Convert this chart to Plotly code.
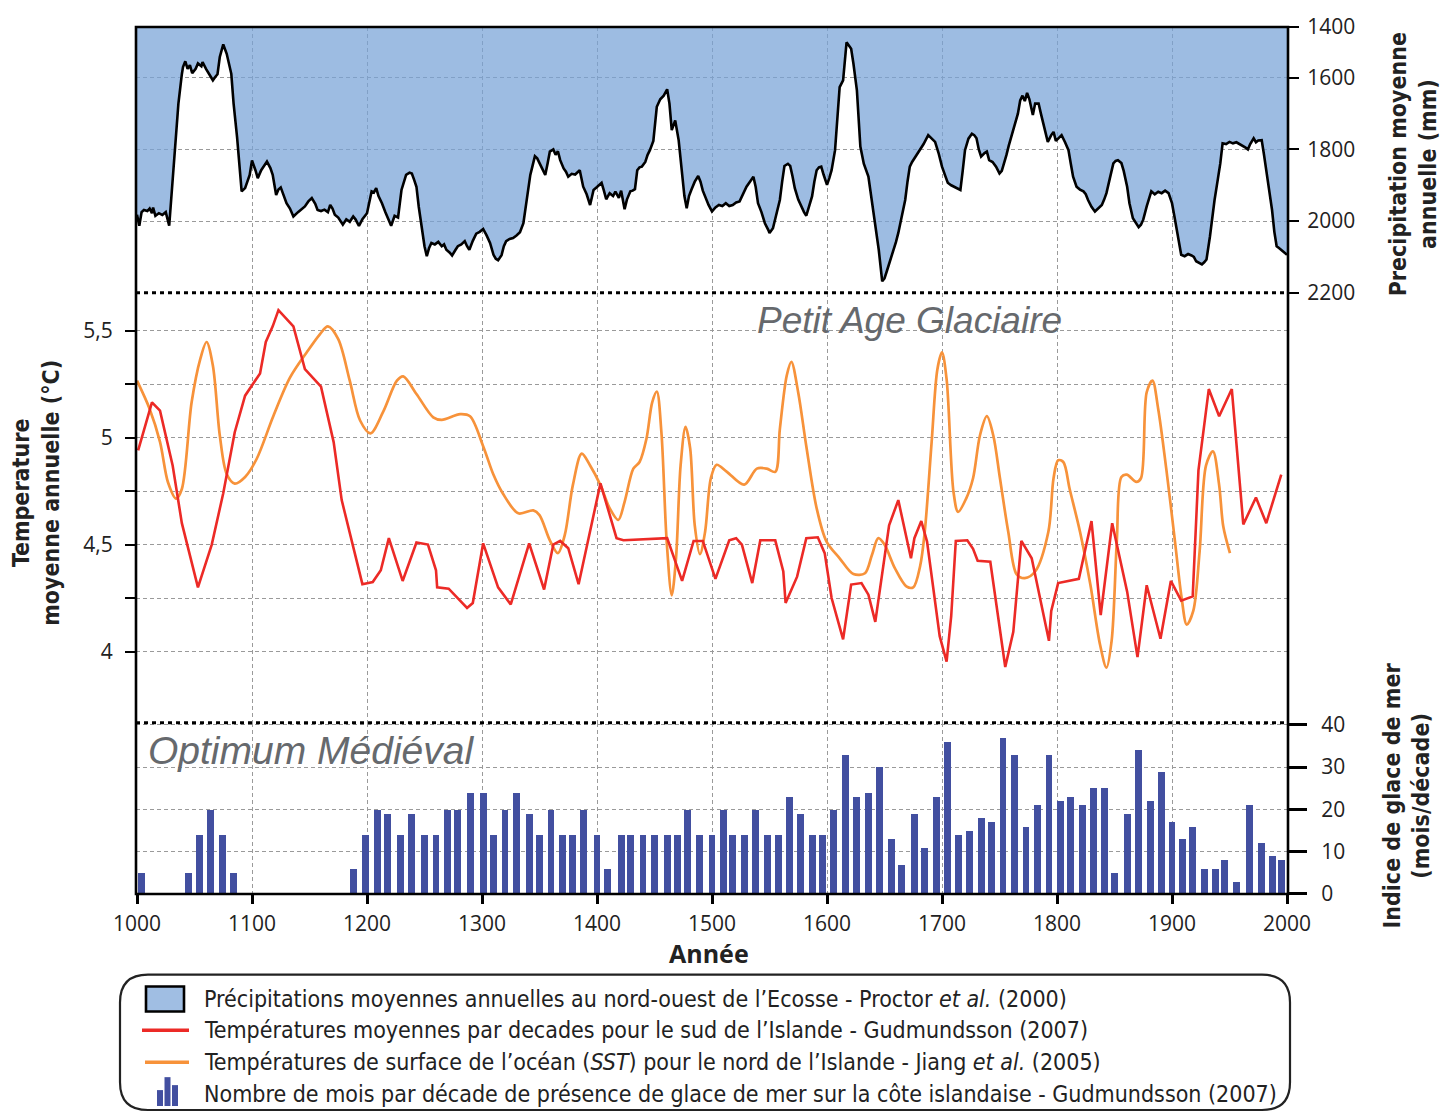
import plotly.graph_objects as go

# ---------------- DATA ----------------
# Precipitation (mm), NW Scotland - Proctor et al. (2000)
precip_years = [1000,1002,1004,1006,1009,1011,1013,1014,1016,1019,1022,1025,1028,1030,1033,1036,1039,1040,1042,1044,
    1046,1048,1051,1053,1056,1057,1060,1063,1066,1068,1070,1072,1075,1078,1082,1084,1087,1091,1094,1098,
    1100,1103,1105,1108,1110,1113,1116,1118,1121,1123,1125,1128,1130,1133,1136,1140,1143,1146,1149,1152,
    1155,1157,1160,1163,1166,1168,1170,1172,1175,1179,1182,1185,1188,1190,1193,1196,1200,1202,1204,1206,
    1208,1210,1213,1216,1219,1221,1224,1227,1230,1232,1234,1237,1239,1241,1243,1245,1248,1250,1252,1254,
    1256,1259,1262,1265,1267,1269,1272,1274,1277,1279,1282,1285,1287,1289,1292,1295,1298,1301,1304,1307,
    1310,1312,1314,1317,1319,1321,1324,1327,1330,1333,1336,1339,1342,1344,1346,1348,1350,1353,1355,1357,
    1359,1362,1364,1366,1368,1371,1373,1375,1378,1381,1385,1388,1391,1394,1397,1400,1404,1406,1408,1411,
    1414,1416,1419,1421,1424,1426,1429,1431,1433,1435,1437,1439,1442,1444,1446,1449,1451,1452,1455,1458,
    1461,1463,1465,1468,1471,1474,1476,1478,1480,1482,1485,1488,1490,1492,1494,1497,1500,1503,1506,1509,
    1512,1515,1518,1521,1524,1527,1530,1533,1536,1538,1540,1543,1546,1549,1550,1553,1555,1557,1559,1561,
    1563,1566,1568,1570,1572,1575,1578,1580,1582,1585,1587,1589,1591,1593,1595,1597,1600,1602,1604,1607,
    1609,1611,1614,1617,1619,1621,1623,1626,1629,1632,1636,1638,1640,1643,1645,1648,1650,1652,1655,1658,
    1660,1662,1665,1668,1670,1672,1674,1677,1680,1684,1688,1691,1694,1697,1700,1703,1705,1708,1711,1714,
    1716,1718,1720,1723,1726,1728,1730,1732,1734,1737,1739,1741,1744,1747,1750,1752,1754,1756,1758,1761,
    1763,1766,1768,1770,1772,1774,1776,1779,1781,1784,1786,1788,1790,1792,1795,1797,1799,1802,1804,1807,
    1810,1812,1814,1817,1820,1823,1825,1827,1830,1833,1836,1839,1841,1843,1846,1849,1851,1853,1856,1858,
    1861,1863,1866,1869,1871,1873,1875,1878,1880,1882,1885,1888,1891,1894,1897,1900,1902,1904,1906,1908,
    1911,1914,1917,1919,1921,1924,1926,1928,1930,1933,1935,1937,1940,1942,1944,1947,1950,1953,1956,1959,
    1962,1964,1966,1968,1971,1973,1975,1978,1980,1982,1985,1987,1989,1991,1993,1995,1998,2000]
precip_mm = [1982,2013,1975,1969,1972,1965,1978,1962,1985,1978,1983,1975,2013,1931,1802,1672,1590,1570,1554,1575,
    1565,1587,1575,1560,1568,1556,1575,1591,1607,1598,1590,1542,1507,1533,1589,1672,1765,1917,1908,1871,
    1831,1858,1880,1858,1848,1834,1852,1871,1927,1912,1906,1935,1950,1965,1987,1975,1968,1959,1945,1936,
    1952,1969,1972,1968,1975,1955,1965,1982,1990,2010,1995,2002,1987,1995,2013,1995,1978,1945,1917,1920,
    1908,1930,1950,1975,2000,2013,1985,1990,1913,1890,1871,1865,1867,1885,1904,1960,2029,2070,2098,2075,
    2061,2065,2058,2070,2065,2080,2088,2096,2080,2070,2065,2056,2070,2080,2055,2035,2030,2022,2040,2061,
    2094,2105,2109,2095,2070,2056,2050,2047,2040,2031,2006,1931,1871,1845,1819,1825,1839,1860,1871,1840,
    1806,1800,1815,1805,1830,1853,1862,1876,1868,1870,1858,1904,1925,1955,1913,1905,1893,1915,1939,1922,
    1930,1918,1935,1915,1967,1940,1917,1915,1911,1858,1850,1848,1835,1815,1802,1776,1720,1681,1660,1650,
    1632,1672,1746,1719,1774,1876,1930,1964,1930,1913,1890,1874,1890,1915,1931,1955,1973,1962,1955,1958,
    1950,1958,1955,1948,1945,1925,1904,1890,1876,1905,1950,1975,2006,2025,2033,2020,1996,1970,1941,1890,
    1846,1840,1846,1875,1908,1940,1964,1975,1985,1955,1931,1890,1858,1850,1848,1870,1899,1880,1858,1802,
    1720,1626,1607,1501,1510,1519,1561,1635,1792,1840,1876,1920,1969,2040,2080,2168,2160,2140,2110,2080,
    2058,2033,1985,1941,1890,1848,1835,1820,1806,1785,1760,1770,1779,1810,1848,1875,1893,1900,1905,1908,
    1913,1860,1802,1770,1756,1760,1769,1800,1820,1810,1806,1830,1835,1848,1867,1860,1840,1816,1790,1756,
    1728,1700,1663,1650,1665,1642,1660,1704,1672,1672,1700,1728,1760,1779,1760,1751,1776,1765,1760,1780,
    1802,1840,1876,1904,1912,1917,1925,1941,1960,1973,1965,1955,1940,1922,1880,1839,1832,1830,1838,1860,
    1904,1950,1992,2005,2017,2010,1996,1959,1935,1917,1925,1918,1922,1915,1922,1950,1985,2024,2060,2094,
    2098,2092,2096,2100,2112,2118,2121,2115,2107,2043,1990,1941,1880,1839,1783,1785,1779,1783,1780,1785,
    1791,1795,1800,1785,1769,1780,1775,1774,1815,1858,1930,1969,2030,2070,2075,2080,2088,2094]

# Decadal mean temperature, S Iceland - Gudmundsson (2007)
temp_s_years = [1001,1013,1020,1031,1039,1053,1065,1075,1085,1094,1107,1112,1118,1123,1136,1146,1160,1171,1178,1196,
    1205,1212,1219,1231,1243,1253,1260,1261,1271,1287,1292,1301,1314,1325,1341,1354,1362,1368,1375,1384,
    1403,1417,1423,1461,1474,1484,1492,1503,1515,1521,1526,1535,1542,1555,1562,1564,1574,1582,1592,1598,
    1604,1614,1621,1630,1636,1642,1654,1662,1673,1676,1682,1687,1698,1704,1708,1712,1722,1727,1731,1742,
    1755,1762,1769,1778,1793,1795,1801,1819,1830,1838,1848,1861,1870,1878,1890,1899,1908,1918,1923,1932,
    1941,1952,1962,1973,1982,1995]
temp_s = [4.94,5.165,5.126,4.87,4.60,4.30,4.50,4.74,5.025,5.196,5.30,5.447,5.52,5.596,5.52,5.32,5.238,4.979,4.708,4.315,
    4.325,4.38,4.53,4.33,4.51,4.50,4.38,4.30,4.294,4.204,4.227,4.506,4.30,4.22,4.506,4.29,4.50,4.517,4.483,4.315,
    4.786,4.53,4.52,4.53,4.33,4.517,4.517,4.34,4.52,4.53,4.50,4.32,4.52,4.52,4.374,4.227,4.35,4.53,4.534,4.46,
    4.25,4.057,4.313,4.32,4.266,4.139,4.59,4.708,4.436,4.53,4.61,4.514,4.072,3.953,4.165,4.517,4.52,4.48,4.424,4.42,
    3.928,4.092,4.517,4.436,4.05,4.19,4.32,4.34,4.61,4.17,4.60,4.28,3.974,4.31,4.06,4.33,4.238,4.258,4.847,5.227,
    5.10,5.227,4.594,4.72,4.60,4.827]

# Sea surface temperature, N Iceland - Jiang et al. (2005)
sst_years = [1000,1011,1020,1027,1034,1039,1047.5,1055,1060.5,1066,1072,1078,1085,1094,1104,1118.5,1133,1147.5,1159,1166,
    1175,1185,1194,1203,1214,1226,1231.5,1243,1257.6,1265,1281,1289.6,1301,1310,1318,1331.6,1344.6,1350,1359,1366,
    1372,1379,1386.7,1394,1403,1411,1418.5,1424,1431.6,1437,1443,1448,1452,1456,1460.6,1465,1468.7,1472.7,1477,1481,
    1485,1489.5,1494,1499,1504,1513,1528,1539,1547.6,1555,1559,1565,1569,1575,1582,1591,1599.6,1611,1623,1633,
    1639,1644.6,1650,1659,1669,1675,1681,1685,1691,1696,1700,1704,1710,1714,1721,1727,1733,1739,1744.6,1750.4,
    1757.6,1765,1772,1781,1792.5,1797,1801,1805.5,1811,1820,1829,1837.4,1843,1847.5,1852,1856,1860.6,1869,
    1873,1878,1883,1888,1895,1902.6,1908.4,1912.8,1918.5,1924,1929.6,1935.6,1941,1944.6,1950.4]
sst = [5.266,5.134,4.98,4.79,4.715,4.76,5.165,5.367,5.447,5.336,5.01,4.83,4.785,4.816,4.90,5.10,5.28,5.398,5.483,5.52,
    5.46,5.266,5.08,5.02,5.12,5.266,5.286,5.204,5.095,5.083,5.11,5.10,4.96,4.826,4.74,4.646,4.66,4.638,4.52,4.46,
    4.545,4.778,4.925,4.87,4.778,4.67,4.615,4.70,4.855,4.886,4.995,5.165,5.215,5.025,4.514,4.263,4.436,4.87,5.05,4.95,
    4.59,4.455,4.56,4.81,4.873,4.84,4.78,4.855,4.855,4.84,5.04,5.29,5.354,5.21,4.96,4.67,4.514,4.436,4.362,4.366,
    4.45,4.53,4.50,4.39,4.305,4.30,4.40,4.56,4.98,5.32,5.398,5.273,4.746,4.653,4.715,4.81,5.01,5.10,5.01,4.81,
    4.56,4.36,4.343,4.374,4.56,4.81,4.894,4.886,4.76,4.56,4.313,4.033,3.925,4.05,4.514,4.816,4.827,4.793,
    4.81,5.212,5.266,5.134,4.855,4.514,4.25,4.126,4.19,4.467,4.87,4.936,4.778,4.584,4.46]

# Sea-ice index (months per decade) - Gudmundsson (2007)
ice_years = [1004,1045,1054,1064,1074,1084,1188,1199,1209,1218,1229,1239,1250,1260,1270,1279,1290,1301,1310,1320,
    1330,1341,1350,1360,1370,1379,1388,1400,1409,1421,1429,1440,1450,1461,1470,1479,1489,1500,1510,1518,
    1528,1538,1548,1558,1567,1577,1587,1596,1606,1616,1626,1636,1646,1656,1665,1676,1685,1695,1705,1714,
    1724,1734,1743,1753,1763,1773,1783,1793,1803,1812,1822,1832,1841,1850,1861,1871,1881,1891,1900,1909,
    1918,1928,1938,1946,1956,1967,1978,1987,1995]
ice_months = [5,5,14,20,14,5,6,14,20,19,14,19,14,14,20,20,24,24,14,20,
    24,19,14,20,14,14,20,14,6,14,14,14,14,14,14,20,14,14,20,14,
    14,20,14,14,23,19,14,14,20,33,23,24,30,13,7,19,11,23,36,14,
    15,18,17,37,33,16,21,33,22,23,21,25,25,5,19,34,22,29,17,13,
    16,6,6,8,3,21,12,9,8]

x_ticks = [1000,1100,1200,1300,1400,1500,1600,1700,1800,1900,2000]
temp_ticks = [4,4.25,4.5,4.75,5,5.25,5.5]
temp_ticktext = ["4","","4,5","","5","","5,5"]
precip_ticks = [1458.3,1600,1800,2000,2200]
precip_ticktext = ["1400","1600","1800","2000","2200"]
ice_ticks = [0,10,20,30,40]

legend_texts = [
    "Précipitations moyennes annuelles au nord-ouest de l’Ecosse - Proctor <i>et al.</i> (2000)",
    "Températures moyennes par decades pour le sud de l’Islande - Gudmundsson (2007)",
    "Températures de surface de l’océan (<i>SST</i>) pour le nord de l’Islande - Jiang <i>et al.</i> (2005)",
    "Nombre de mois par décade de présence de glace de mer sur la côte islandaise - Gudmundsson (2007)",
]

# ---------------- STYLE / LAYOUT ----------------
W, H = 1455, 1113
ML, MR, MT, MB = 136, 167, 23, 219
PW, PH = W - ML - MR, H - MT - MB

def PX(px):
    return (px - ML) / PW

def PY(py):
    return (H - MB - py) / PH

D1 = PY(722)   # ice / temperature boundary
D2 = PY(290)   # temperature / precipitation boundary
XR = [999.13, 2000.87]
ICE_R = [0, 40.47]
TEMP_R = [3.667, 5.677]
PREC_R = [2200, 1458.3]

BLUE_FILL = "rgba(119,162,215,0.72)"
RED = "#ec2a26"
ORANGE = "#f7923a"
BAR = "#424fa0"
GRID = "#9a9a9a"
TXT = "#222222"
TICKFONT = dict(family="Open Sans, Liberation Sans, sans-serif", size=21, color=TXT)
NARROW = "DejaVu Sans Condensed, Liberation Sans, sans-serif"

fig = go.Figure()

fig.add_trace(go.Bar(x=ice_years, y=ice_months, width=6, marker=dict(color=BAR, line=dict(width=0)),
                     xaxis="x", yaxis="y", hoverinfo="skip"))
fig.add_trace(go.Scatter(x=sst_years, y=sst, mode="lines", line=dict(color=ORANGE, width=2.7, shape="spline", smoothing=0.9),
                         xaxis="x2", yaxis="y2", hoverinfo="skip"))
fig.add_trace(go.Scatter(x=temp_s_years, y=temp_s, mode="lines", line=dict(color=RED, width=2.6),
                         xaxis="x2", yaxis="y2", hoverinfo="skip"))
fig.add_trace(go.Scatter(x=precip_years, y=[PREC_R[1] - 20] * len(precip_years), mode="lines",
                         line=dict(width=0, color="rgba(0,0,0,0)"), xaxis="x3", yaxis="y3", hoverinfo="skip"))
fig.add_trace(go.Scatter(x=precip_years, y=precip_mm, mode="lines", line=dict(color="black", width=2.6),
                         fill="tonexty", fillcolor=BLUE_FILL, xaxis="x3", yaxis="y3", hoverinfo="skip"))

grid_kw = dict(showgrid=True, gridcolor=GRID, gridwidth=1, griddash="4px,3px", zeroline=False)

fig.update_layout(
    width=W, height=H, autosize=False,
    margin=dict(l=ML, r=MR, t=MT, b=MB, pad=0),
    paper_bgcolor="white", plot_bgcolor="white", showlegend=False,
    bargap=0,
    xaxis=dict(domain=[0, 1], range=XR, anchor="y", tickvals=x_ticks, ticks="outside", ticklen=9,
               tickwidth=2.5, tickcolor="black", tickfont=TICKFONT, ticklabelstandoff=2, showline=False, **grid_kw),
    xaxis2=dict(domain=[0, 1], range=XR, anchor="y2", matches="x", tickvals=x_ticks, showticklabels=False,
                ticks="", showline=False, **grid_kw),
    xaxis3=dict(domain=[0, 1], range=XR, anchor="y3", matches="x", tickvals=x_ticks, showticklabels=False,
                ticks="", showline=False, **grid_kw),
    yaxis=dict(domain=[0, D1], range=ICE_R, anchor="x", side="right", tickvals=ice_ticks, ticks="outside",
               ticklen=18, tickwidth=2.5, tickcolor="black", tickfont=TICKFONT, ticklabelstandoff=10,
               showline=False, **grid_kw),
    yaxis4=dict(range=ICE_R, overlaying="y", anchor="x", side="left", tickvals=[10, 20, 30, 40],
                ticks="outside", ticklen=8, tickwidth=1.5, tickcolor="black", showticklabels=False,
                showgrid=False, zeroline=False, showline=False),
    yaxis2=dict(domain=[D1, D2], range=TEMP_R, anchor="x2", side="left", tickvals=temp_ticks,
                ticktext=temp_ticktext, ticks="outside", ticklen=10, tickwidth=1.5, tickcolor="black",
                tickfont=TICKFONT, ticklabelstandoff=8, showline=False, **grid_kw),
    yaxis3=dict(domain=[D2, 1], range=PREC_R, anchor="x3", side="right", tickvals=precip_ticks,
                ticktext=precip_ticktext, ticks="outside", ticklen=10, tickwidth=1.5, tickcolor="black",
                tickfont=TICKFONT, ticklabelstandoff=4, showline=False, **grid_kw),
)

shapes = []
# plot frame
shapes.append(dict(type="rect", xref="paper", yref="paper", x0=0, x1=1, y0=0, y1=1,
                   line=dict(color="black", width=2.6), layer="above"))
# panel separators (dotted)
for d in (D1, D2):
    shapes.append(dict(type="line", xref="paper", yref="paper", x0=0, x1=1, y0=d, y1=d,
                       line=dict(color="black", width=3, dash="4px,4px"), layer="above"))

# legend box (rounded rectangle)
L, R, T, B, RAD = 120, 1290, 975, 1111, 28
def P(px, py):
    return f"{PX(px):.5f},{PY(py):.5f}"
path = (f"M {P(L+RAD, T)} L {P(R-RAD, T)} Q {P(R, T)} {P(R, T+RAD)} L {P(R, B-RAD)} Q {P(R, B)} {P(R-RAD, B)} "
        f"L {P(L+RAD, B)} Q {P(L, B)} {P(L, B-RAD)} L {P(L, T+RAD)} Q {P(L, T)} {P(L+RAD, T)} Z")
shapes.append(dict(type="path", xref="paper", yref="paper", path=path, line=dict(color="#222222", width=2.2)))
# legend symbols
shapes.append(dict(type="rect", xref="paper", yref="paper", x0=PX(146), x1=PX(184), y0=PY(1012), y1=PY(987),
                   fillcolor="#a0bee3", line=dict(color="black", width=2.6)))
shapes.append(dict(type="line", xref="paper", yref="paper", x0=PX(142), x1=PX(189), y0=PY(1031), y1=PY(1031),
                   line=dict(color=RED, width=3.5)))
shapes.append(dict(type="line", xref="paper", yref="paper", x0=PX(145), x1=PX(189), y0=PY(1063), y1=PY(1063),
                   line=dict(color=ORANGE, width=3.5)))
for (a, b, top) in [(157, 163, 1091), (164.5, 170.5, 1078), (172, 178, 1086)]:
    shapes.append(dict(type="rect", xref="paper", yref="paper", x0=PX(a), x1=PX(b), y0=PY(1107), y1=PY(top),
                       fillcolor=BAR, line=dict(width=0)))
fig.update_layout(shapes=shapes)

ann = []
ann.append(dict(text="<i>Petit Age Glaciaire</i>", x=PX(909), y=PY(318), xref="paper", yref="paper",
                showarrow=False, font=dict(family="Liberation Sans, Arial, sans-serif", size=37, color="#66696d"),
                xanchor="center", yanchor="middle"))
ann.append(dict(text="<i>Optimum Médiéval</i>", x=PX(311), y=PY(750), xref="paper", yref="paper",
                showarrow=False, font=dict(family="Liberation Sans, Arial, sans-serif", size=39, color="#66696d"),
                xanchor="center", yanchor="middle"))
ann.append(dict(text="<b>Année</b>", x=PX(709), y=PY(953), xref="paper", yref="paper", showarrow=False,
                font=dict(family="Open Sans, sans-serif", size=25, color=TXT), xanchor="center", yanchor="middle"))
ann.append(dict(text="<b>Temperature<br>moyenne annuelle (°C)</b>", x=PX(36), y=PY(491), xref="paper", yref="paper",
                showarrow=False, textangle=-90, font=dict(family=NARROW, size=23, color=TXT),
                xanchor="center", yanchor="middle"))
ann.append(dict(text="<b>Precipitation moyenne<br>annuelle (mm)</b>", x=PX(1413), y=PY(161), xref="paper",
                yref="paper", showarrow=False, textangle=-90, font=dict(family=NARROW, size=23, color=TXT),
                xanchor="center", yanchor="middle"))
ann.append(dict(text="<b>Indice de glace de mer<br>(mois/décade)</b>", x=PX(1407), y=PY(795), xref="paper",
                yref="paper", showarrow=False, textangle=-90, font=dict(family=NARROW, size=23, color=TXT),
                xanchor="center", yanchor="middle"))
for i, t in enumerate(legend_texts):
    ann.append(dict(text=t, x=PX(202), y=PY(999 + 32 * i), xref="paper", yref="paper", showarrow=False,
                    font=dict(family=NARROW, size=23, color=TXT), xanchor="left", yanchor="middle"))
fig.update_layout(annotations=ann)

fig.write_html("out.html", config={"displayModeBar": False},
               post_script="document.body.style.margin='0px';")
